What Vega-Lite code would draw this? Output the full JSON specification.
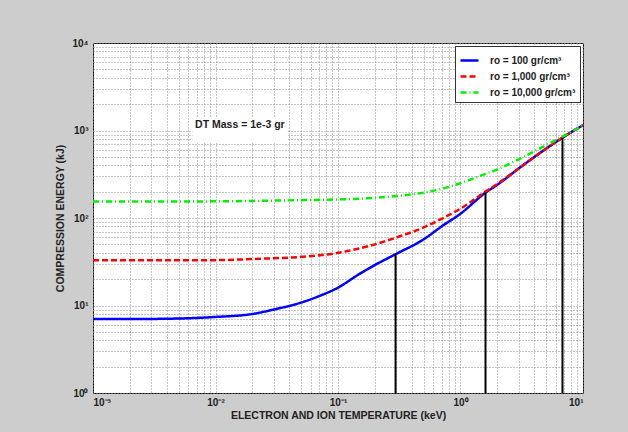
{
  "$schema": "https://vega.github.io/schema/vega-lite/v6.json",
  "width": 490,
  "height": 350,
  "autosize": {"type": "none"},
  "padding": {"left": 93, "top": 43, "right": 45, "bottom": 39},
  "background": "#cdcdcd",
  "config": {
    "view": {"fill": "white", "stroke": "black", "strokeWidth": 1},
    "font": "Liberation Sans",
    "axis": {
      "gridColor": "#8c8c8c",
      "gridDash": [1, 2],
      "gridWidth": 1,
      "gridOpacity": 1,
      "domain": false,
      "ticks": false,
      "labelFont": "Liberation Sans",
      "labelFontSize": 10,
      "labelFontWeight": "bold",
      "labelColor": "#222",
      "labelOverlap": false,
      "titleFont": "Liberation Sans",
      "titleFontSize": 10.5,
      "titleFontWeight": "bold",
      "titleColor": "#222"
    }
  },
  "datasets": {
    "curves": [
      {"series": "ro = 100 gr/cm³", "T": 0.001, "E": 7.0},
      {"series": "ro = 100 gr/cm³", "T": 0.002, "E": 7.0},
      {"series": "ro = 100 gr/cm³", "T": 0.005, "E": 7.1},
      {"series": "ro = 100 gr/cm³", "T": 0.01, "E": 7.4},
      {"series": "ro = 100 gr/cm³", "T": 0.02, "E": 8.0},
      {"series": "ro = 100 gr/cm³", "T": 0.03, "E": 9.0},
      {"series": "ro = 100 gr/cm³", "T": 0.05, "E": 10.8},
      {"series": "ro = 100 gr/cm³", "T": 0.07, "E": 12.8},
      {"series": "ro = 100 gr/cm³", "T": 0.1, "E": 16},
      {"series": "ro = 100 gr/cm³", "T": 0.15, "E": 23},
      {"series": "ro = 100 gr/cm³", "T": 0.2, "E": 29},
      {"series": "ro = 100 gr/cm³", "T": 0.3, "E": 39},
      {"series": "ro = 100 gr/cm³", "T": 0.5, "E": 57},
      {"series": "ro = 100 gr/cm³", "T": 0.7, "E": 80},
      {"series": "ro = 100 gr/cm³", "T": 1.0, "E": 112},
      {"series": "ro = 100 gr/cm³", "T": 1.6, "E": 195},
      {"series": "ro = 100 gr/cm³", "T": 2.0, "E": 240},
      {"series": "ro = 100 gr/cm³", "T": 3.0, "E": 370},
      {"series": "ro = 100 gr/cm³", "T": 5.0, "E": 620},
      {"series": "ro = 100 gr/cm³", "T": 7.0, "E": 850},
      {"series": "ro = 100 gr/cm³", "T": 10.0, "E": 1150},
      {"series": "ro = 1,000 gr/cm³", "T": 0.001, "E": 33},
      {"series": "ro = 1,000 gr/cm³", "T": 0.01, "E": 33},
      {"series": "ro = 1,000 gr/cm³", "T": 0.02, "E": 34},
      {"series": "ro = 1,000 gr/cm³", "T": 0.05, "E": 36},
      {"series": "ro = 1,000 gr/cm³", "T": 0.1, "E": 40},
      {"series": "ro = 1,000 gr/cm³", "T": 0.2, "E": 50},
      {"series": "ro = 1,000 gr/cm³", "T": 0.3, "E": 60},
      {"series": "ro = 1,000 gr/cm³", "T": 0.5, "E": 78},
      {"series": "ro = 1,000 gr/cm³", "T": 0.7, "E": 98},
      {"series": "ro = 1,000 gr/cm³", "T": 1.0, "E": 128},
      {"series": "ro = 1,000 gr/cm³", "T": 1.6, "E": 200},
      {"series": "ro = 1,000 gr/cm³", "T": 2.0, "E": 245},
      {"series": "ro = 1,000 gr/cm³", "T": 3.0, "E": 370},
      {"series": "ro = 1,000 gr/cm³", "T": 5.0, "E": 620},
      {"series": "ro = 1,000 gr/cm³", "T": 7.0, "E": 850},
      {"series": "ro = 1,000 gr/cm³", "T": 10.0, "E": 1150},
      {"series": "ro = 10,000 gr/cm³", "T": 0.001, "E": 154},
      {"series": "ro = 10,000 gr/cm³", "T": 0.01, "E": 155},
      {"series": "ro = 10,000 gr/cm³", "T": 0.05, "E": 160},
      {"series": "ro = 10,000 gr/cm³", "T": 0.1, "E": 163},
      {"series": "ro = 10,000 gr/cm³", "T": 0.2, "E": 170},
      {"series": "ro = 10,000 gr/cm³", "T": 0.3, "E": 178},
      {"series": "ro = 10,000 gr/cm³", "T": 0.5, "E": 195},
      {"series": "ro = 10,000 gr/cm³", "T": 0.7, "E": 215},
      {"series": "ro = 10,000 gr/cm³", "T": 1.0, "E": 250},
      {"series": "ro = 10,000 gr/cm³", "T": 1.6, "E": 320},
      {"series": "ro = 10,000 gr/cm³", "T": 2.0, "E": 360},
      {"series": "ro = 10,000 gr/cm³", "T": 3.0, "E": 470},
      {"series": "ro = 10,000 gr/cm³", "T": 5.0, "E": 680},
      {"series": "ro = 10,000 gr/cm³", "T": 7.0, "E": 870},
      {"series": "ro = 10,000 gr/cm³", "T": 10.0, "E": 1150}
    ],
    "markers": [
      {"T": 0.295, "E0": 1, "E": 39},
      {"T": 1.6, "E0": 1, "E": 195},
      {"T": 6.8, "E0": 1, "E": 820}
    ],
    "note": [
      {"T1": 0.0065, "T2": 0.039, "E1": 720, "E2": 1390, "Tc": 0.0158, "Ec": 1150, "label": "DT Mass = 1e-3 gr"}
    ]
  },
  "layer": [
    {
      "data": {"name": "note"},
      "mark": {"type": "rect", "fill": "white"},
      "encoding": {
        "x": {"field": "T1", "type": "quantitative", "scale": {"type": "log", "domain": [0.001, 10]},
          "axis": {
            "title": "ELECTRON AND ION TEMPERATURE (keV)",
            "titlePadding": 3,
            "labelPadding": 4,
            "values": [0.001,0.002,0.003,0.004,0.005,0.006,0.007,0.008,0.009,0.01,0.02,0.03,0.04,0.05,0.06,0.07,0.08,0.09,0.1,0.2,0.3,0.4,0.5,0.6,0.7,0.8,0.9,1,2,3,4,5,6,7,8,9,10],
            "labelExpr": "datum.value == 0.001 ? '10⁻³' : datum.value == 0.01 ? '10⁻²' : datum.value == 0.1 ? '10⁻¹' : datum.value == 1 ? '10⁰' : datum.value == 10 ? '10¹' : ''"
          }},
        "x2": {"field": "T2"},
        "y": {"field": "E1", "type": "quantitative", "scale": {"type": "log", "domain": [1, 10000]},
          "axis": {
            "title": "COMPRESSION ENERGY (kJ)",
            "titlePadding": 6,
            "labelPadding": 5,
            "values": [1,2,3,4,5,6,7,8,9,10,20,30,40,50,60,70,80,90,100,200,300,400,500,600,700,800,900,1000,2000,3000,4000,5000,6000,7000,8000,9000,10000],
            "labelExpr": "datum.value == 1 ? '10⁰' : datum.value == 10 ? '10¹' : datum.value == 100 ? '10²' : datum.value == 1000 ? '10³' : datum.value == 10000 ? '10⁴' : ''"
          }},
        "y2": {"field": "E2"}
      }
    },
    {
      "data": {"name": "note"},
      "mark": {"type": "text", "font": "Liberation Sans", "fontSize": 10.5, "fontWeight": "bold", "color": "#222"},
      "encoding": {
        "x": {"field": "Tc", "type": "quantitative"},
        "y": {"field": "Ec", "type": "quantitative"},
        "text": {"field": "label"}
      }
    },
    {
      "data": {"name": "curves"},
      "mark": {"type": "line", "strokeWidth": 2.5, "interpolate": "monotone"},
      "encoding": {
        "x": {"field": "T", "type": "quantitative"},
        "y": {"field": "E", "type": "quantitative"},
        "color": {
          "field": "series", "type": "nominal",
          "scale": {"domain": ["ro = 100 gr/cm³", "ro = 1,000 gr/cm³", "ro = 10,000 gr/cm³"], "range": ["#0000ff", "#ff0000", "#00f000"]},
          "legend": {
            "title": null,
            "orient": "top-right",
            "offset": 3,
            "padding": 4,
            "fillColor": "white",
            "strokeColor": "#333",
            "symbolType": "stroke",
            "symbolSize": 324,
            "symbolStrokeWidth": 2.5,
            "labelFont": "Liberation Sans",
            "labelFontSize": 10,
            "labelFontWeight": "bold",
            "labelColor": "#222",
            "labelOffset": 10,
            "rowPadding": 0
          }
        },
        "strokeDash": {
          "field": "series", "type": "nominal",
          "scale": {"domain": ["ro = 100 gr/cm³", "ro = 1,000 gr/cm³", "ro = 10,000 gr/cm³"], "range": [[1, 0], [6, 3], [6, 3, 1, 3]]},
          "legend": {
            "title": null,
            "orient": "top-right",
            "offset": 3,
            "padding": 4,
            "fillColor": "white",
            "strokeColor": "#333",
            "symbolType": "stroke",
            "symbolSize": 324,
            "symbolStrokeWidth": 2.5,
            "labelFont": "Liberation Sans",
            "labelFontSize": 10,
            "labelFontWeight": "bold",
            "labelColor": "#222",
            "labelOffset": 10,
            "rowPadding": 0
          }
        }
      }
    },
    {
      "data": {"name": "markers"},
      "mark": {"type": "rule", "color": "black", "strokeWidth": 2},
      "encoding": {
        "x": {"field": "T", "type": "quantitative"},
        "y": {"field": "E0", "type": "quantitative"},
        "y2": {"field": "E"}
      }
    }
  ]
}
